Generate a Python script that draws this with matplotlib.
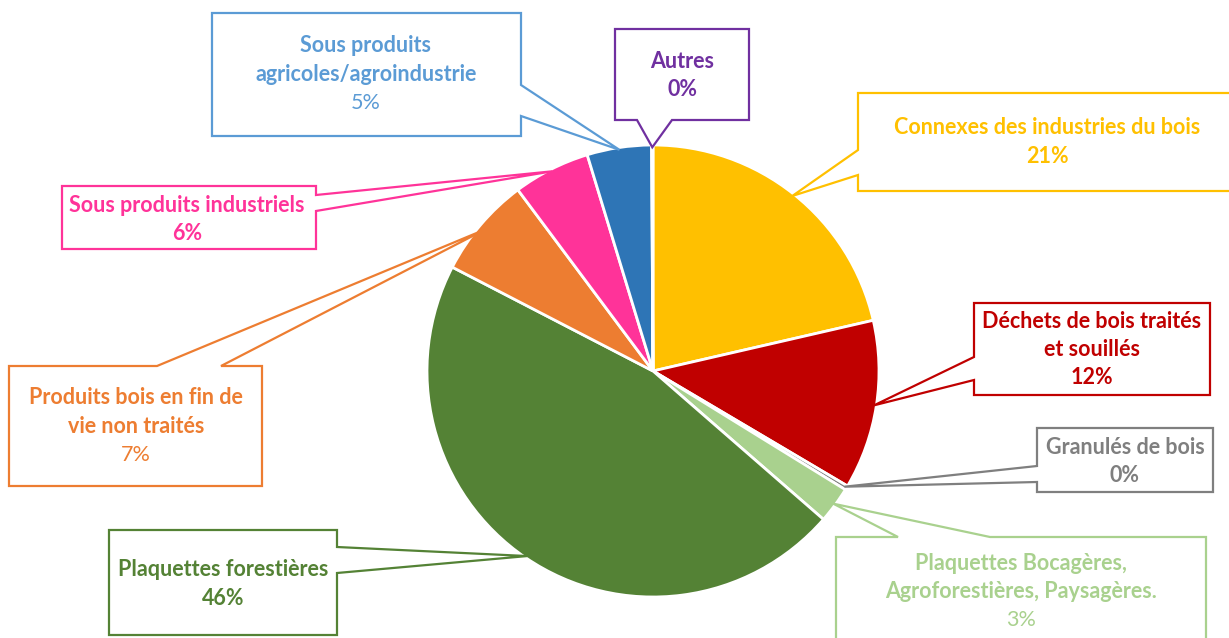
import numpy as np
import matplotlib.pyplot as plt
from matplotlib.patches import Polygon

# Data (share of supply, %)
categories = ["Connexes des industries du bois", "Déchets de bois traités\net souillés",
              "Granulés de bois", "Plaquettes Bocagères,\nAgroforestières, Paysagères.",
              "Plaquettes forestières", "Produits bois en fin de\nvie non traités",
              "Sous produits industriels", "Sous produits\nagricoles/agroindustrie", "Autres"]
values = [21.4, 12.1, 0.3, 2.6, 46.2, 7.2, 5.5, 4.6, 0.1]
slice_colors = ["#FFC000", "#C00000", "#7F7F7F", "#A9D18E", "#548235",
                "#ED7D31", "#FF3399", "#2E75B6", "#7030A0"]
label_colors = ["#FFC000", "#C00000", "#7F7F7F", "#A9D18E", "#548235",
                "#ED7D31", "#FF3399", "#5B9BD5", "#7030A0"]
pct_bold = [True, True, True, False, True, False, True, False, True]

# callout layout in pixels: box (x0, top, x1, bottom), pointer side, pointer base, text centre x, first line y
callouts = [
    ((858, 93, 1270, 191), "left", (150, 175), 1047, 128),
    ((974, 303, 1210, 395), "left", (357, 380), 1092, 321),
    ((1037, 428, 1213, 492), "left", (466, 482), 1125, 447),
    ((836, 537, 1206, 660), "top", (898, 990), 1021, 563),
    ((109, 530, 337, 635), "right", (547, 573), 223, 570),
    ((9, 366, 262, 486), "top", (157, 221), 136, 398),
    ((62, 186, 316, 249), "right", (195, 211), 187, 205),
    ((212, 13, 521, 136), "right", (85, 116), 366, 46),
    ((615, 29, 749, 120), "bottom", (637, 672), 682, 61),
]

W, H = 1229, 638
cx, cy, R = 653, 371, 226

plt.rcParams['font.family'] = ['Lato', 'DejaVu Sans']
fig = plt.figure(figsize=(W / 100, H / 100), dpi=100, facecolor='white')
ax = fig.add_axes([0, 0, 1, 1])

# y axis is inverted (pixel style), so start at -90 and go counterclockwise = visual clockwise from top
wedges, _ = ax.pie(values, colors=slice_colors, startangle=-90, counterclock=True,
                   center=(cx, cy), radius=R,
                   wedgeprops=dict(edgecolor='white', linewidth=2))
ax.set_xlim(0, W)
ax.set_ylim(H, 0)
ax.set_aspect('equal')
ax.axis('off')


def callout_poly(box, side, base, tip):
    x0, y0, x1, y1 = box
    a, b = base
    if side == "left":
        pts = [(x0, y0), (x1, y0), (x1, y1), (x0, y1), (x0, b), tip, (x0, a)]
    elif side == "right":
        pts = [(x0, y0), (x1, y0), (x1, a), tip, (x1, b), (x1, y1), (x0, y1)]
    elif side == "top":
        pts = [(x0, y0), (a, y0), tip, (b, y0), (x1, y0), (x1, y1), (x0, y1)]
    else:
        pts = [(x0, y0), (x1, y0), (x1, y1), (b, y1), tip, (a, y1), (x0, y1)]
    return pts


line_gap = 28.5
for i, w in enumerate(wedges):
    box, side, base, tx, ty = callouts[i]
    mid = np.deg2rad((w.theta1 + w.theta2) / 2)
    r = 0.99 * R if i != 5 else 0.97 * R
    tip = (cx + r * np.cos(mid), cy + r * np.sin(mid))
    poly = Polygon(callout_poly(box, side, base, tip), closed=True, facecolor='white',
                   edgecolor=label_colors[i], linewidth=1.6, zorder=3)
    ax.add_patch(poly)
    lines = categories[i].split("\n")
    for k, line in enumerate(lines):
        ax.text(tx, ty + k * line_gap, line, ha='center', va='center', fontsize=15.5,
                fontweight='bold', color=label_colors[i], zorder=4)
    ax.text(tx, ty + len(lines) * line_gap, f"{values[i]:.0f}%", ha='center', va='center',
            fontsize=15.5, fontweight='bold' if pct_bold[i] else 'normal',
            color=label_colors[i], zorder=4)

plt.savefig('out.png', dpi=100)
